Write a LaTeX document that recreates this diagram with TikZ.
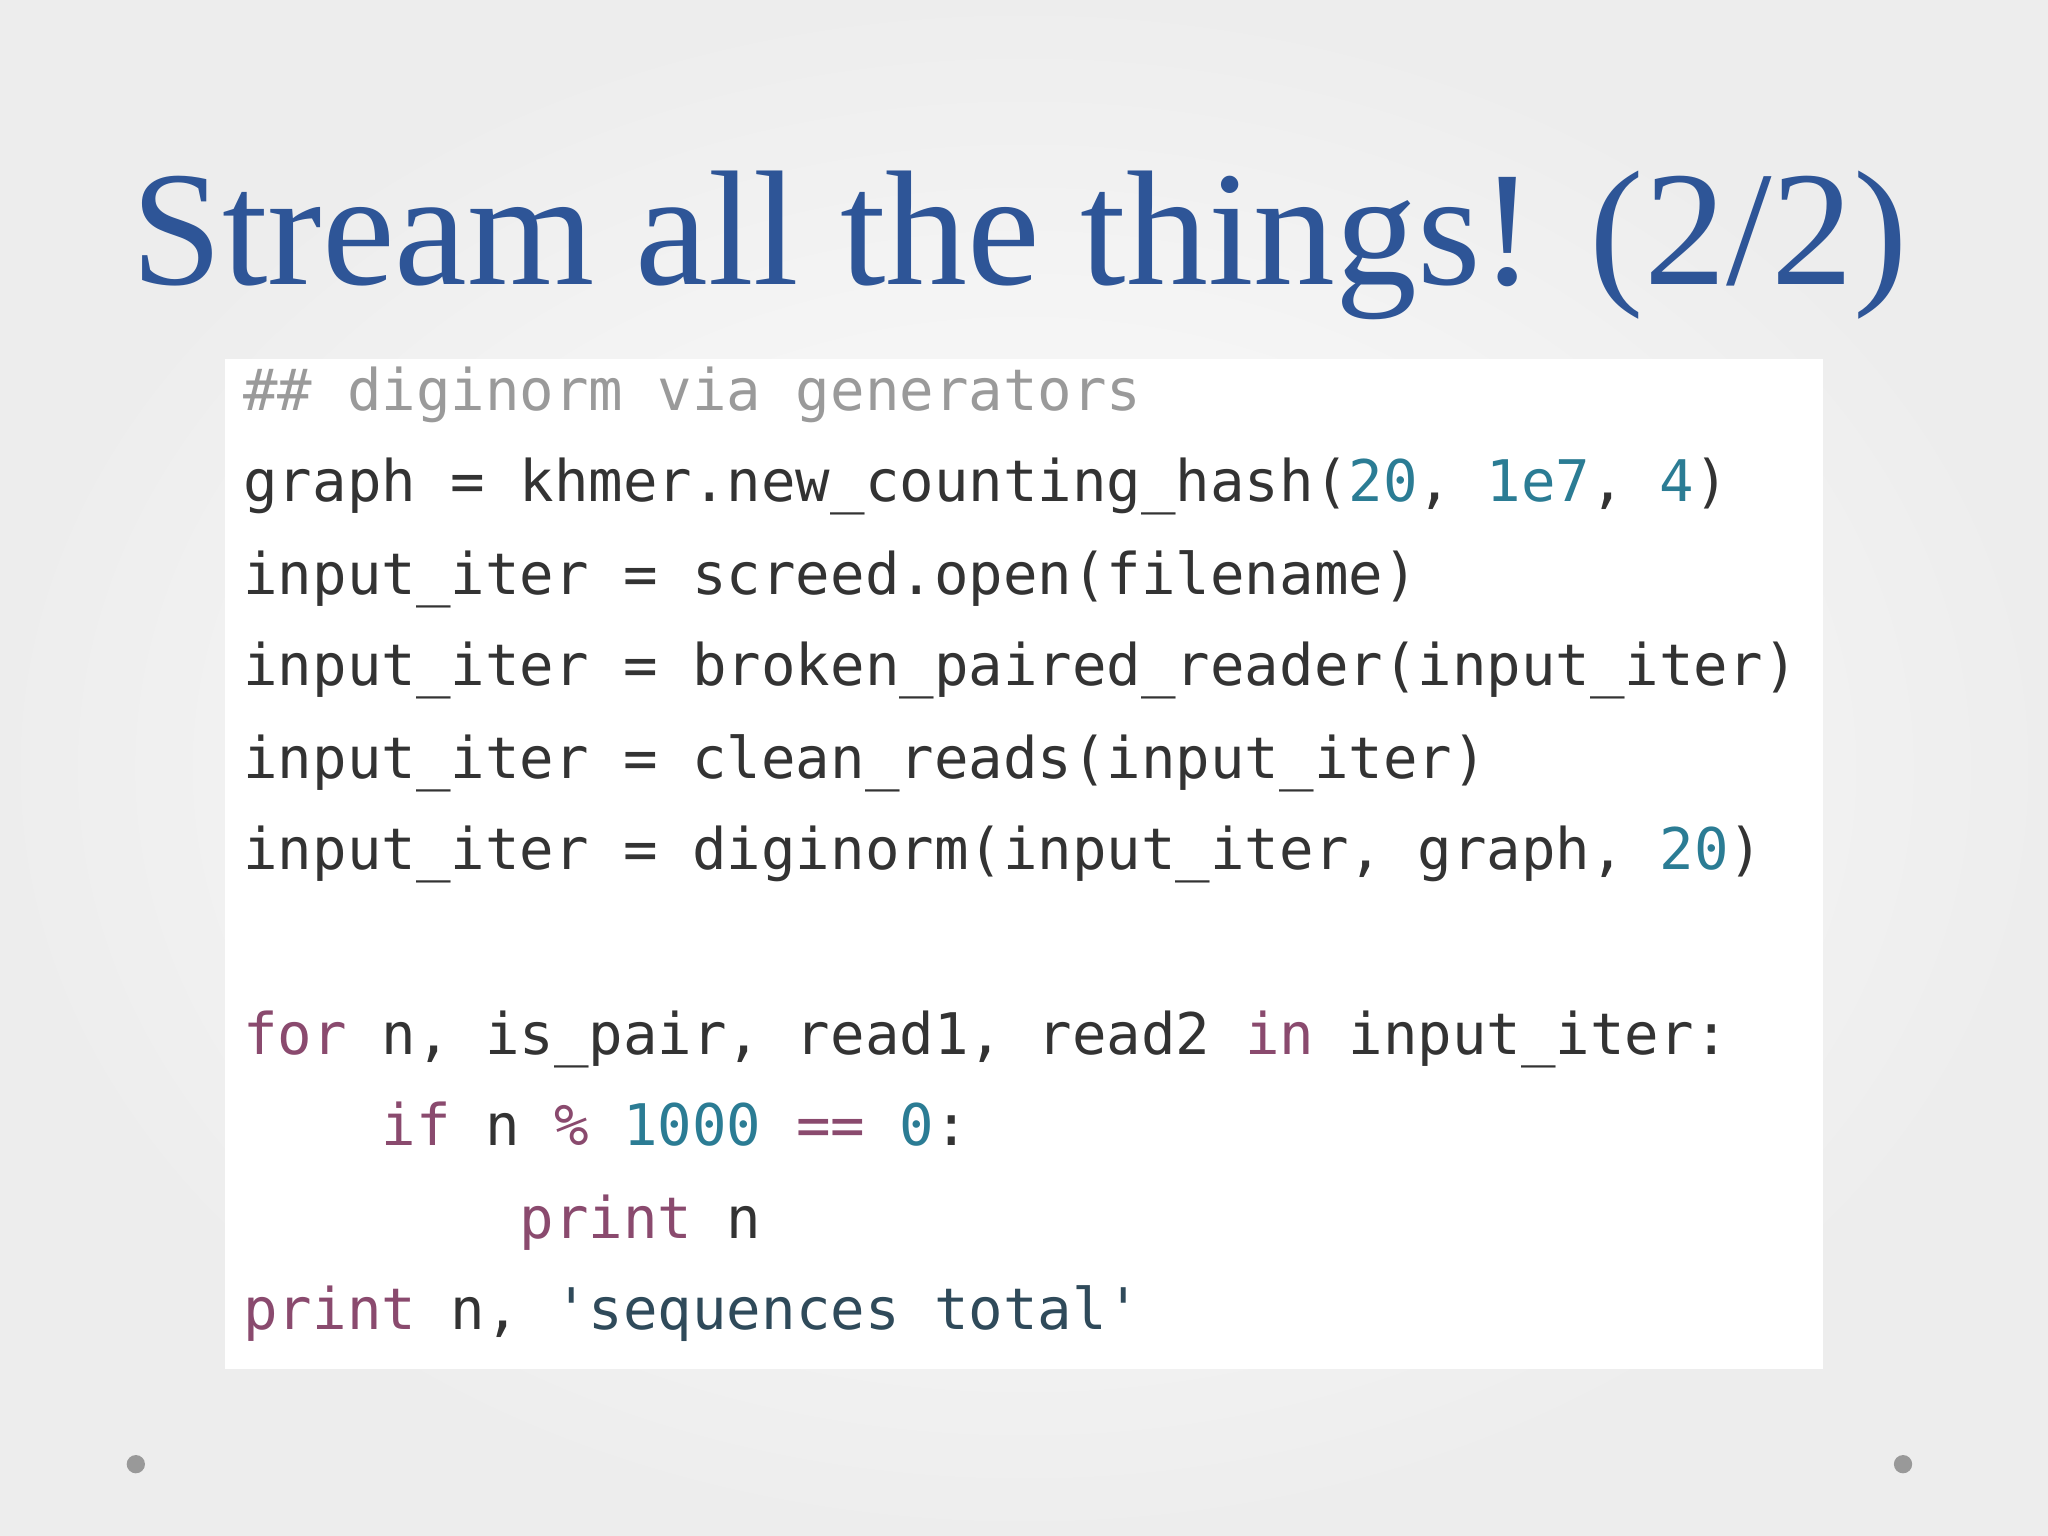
\documentclass[tikz,border=0pt]{standalone}
\usepackage{fontspec}
\setmainfont{Liberation Serif}
\setmonofont{DejaVu Sans Mono}
\definecolor{titleblue}{HTML}{2E5597}
\definecolor{codetxt}{HTML}{333333}
\definecolor{cmt}{HTML}{9A9A9A}
\definecolor{num}{HTML}{2B7C94}
\definecolor{kw}{HTML}{8A4A6E}
\definecolor{str}{HTML}{2F4A5A}
\newcommand{\N}[1]{\textcolor{num}{#1}}
\newcommand{\K}[1]{\textcolor{kw}{#1}}
\begin{document}
\begin{tikzpicture}[x=0.02cm,y=-0.02cm,
  codeline/.style={anchor=base west,inner sep=0,font=\ttfamily\fontsize{25}{30}\selectfont,text=codetxt}]
\useasboundingbox (0,0) rectangle (1568,1176);
\shade[inner color=white,outer color=black!7] (0,0) rectangle (1568,1176);
\node[anchor=base west,inner sep=0,text=titleblue,font=\fontsize{71.3}{76}\selectfont] (title) at (100,218) {Stream all the things! (2/2)};
\fill[white] (172,275) rectangle (1396,1048);
\node[codeline,text=cmt] (l0) at (186,314) {\#\# diginorm via generators};
\node[codeline] (l1) at (186,384) {graph = khmer.new\_counting\_hash(\N{20}, \N{1e7}, \N{4})};
\node[codeline] (l2) at (186,455) {input\_iter = screed.open(filename)};
\node[codeline] (l3) at (186,525) {input\_iter = broken\_paired\_reader(input\_iter)};
\node[codeline] (l4) at (186,596) {input\_iter = clean\_reads(input\_iter)};
\node[codeline] (l5) at (186,666) {input\_iter = diginorm(input\_iter, graph, \N{20})};
\node[codeline] (l6) at (186,807) {\K{for} n, is\_pair, read1, read2 \K{in} input\_iter:};
\node[codeline] (l7) at (186,877) {\hphantom{1234}\K{if} n \K{\%} \N{1000} \K{==} \N{0}:};
\node[codeline] (l8) at (186,948) {\hphantom{12345678}\K{print} n};
\node[codeline] (l9) at (186,1018) {\K{print} n, \textcolor{str}{'sequences total'}};
\fill[black!40] (104,1121) circle (7);
\fill[black!40] (1457,1121) circle (7);
\end{tikzpicture}
\end{document}
